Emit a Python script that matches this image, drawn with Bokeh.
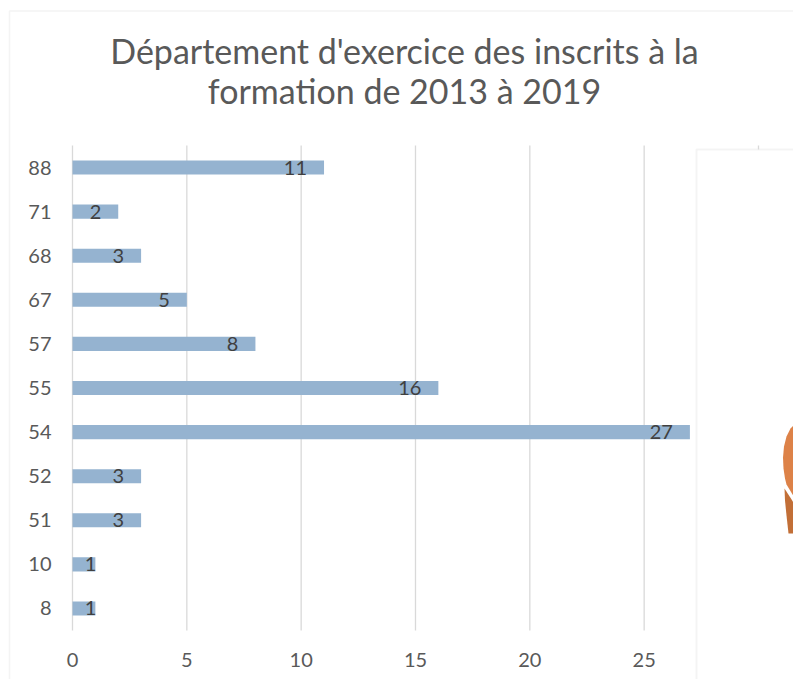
from bokeh.plotting import figure
from bokeh.models import (Range1d, FixedTicker, Label, BoxAnnotation,
                          PolyAnnotation, ColumnDataSource)
from bokeh.core.properties import value
from bokeh.embed import file_html
from bokeh.resources import INLINE

# ---- data ----
departements = ["8", "10", "51", "52", "54", "55", "57", "67", "68", "71", "88"]
inscrits = [1, 1, 3, 3, 27, 16, 8, 5, 3, 2, 11]
x_ticks = [0, 5, 10, 15, 20, 25, 30]
title_lines = ["Département d'exercice des inscrits à la", "formation de 2013 à 2019"]

FONT = "Lato"
W, H = 793, 679

# plot-area geometry (pixels on the page)
PX_L, PX_R = 72, 758          # x = 0 .. 30
PY_T, PY_B = 145, 630         # top / bottom of the plot area
n_cat = len(departements)
x_max = x_ticks[-1]
sx = (PX_R - PX_L) / x_max                  # px per unit (x)
sy = (PY_B - PY_T) / n_cat                  # px per category
x_start = -PX_L / sx
x_end = x_start + W / sx
y_low = -0.5 - (H - PY_B) / sy
y_high = y_low + H / sy

pos = list(range(n_cat))
src = ColumnDataSource(dict(
    pos=pos,
    n=inscrits,
    lbl=[str(v) for v in inscrits],
    xo=[-17 if v >= 2 else 1 for v in inscrits],
))

p = figure(width=W, height=H,
           x_range=Range1d(x_start, x_end), y_range=Range1d(y_low, y_high),
           output_backend="svg", toolbar_location=None,
           min_border=0, min_border_left=0, min_border_right=0,
           min_border_top=0, min_border_bottom=0)
p.outline_line_color = None
p.background_fill_color = "white"
p.border_fill_color = "white"

# vertical gridlines limited to the plot area
p.segment(x0=x_ticks, x1=x_ticks, y0=[-0.5] * len(x_ticks), y1=[n_cat - 0.5] * len(x_ticks),
          line_color="#d9d9d9", line_width=1.3)
p.xgrid.grid_line_color = None
p.ygrid.grid_line_color = None

p.hbar(y="pos", right="n", left=0, height=0.32, source=src,
       fill_color="#95b3d0", line_color=None)

p.text(x="n", y="pos", text="lbl", x_offset="xo", source=src,
       text_align="right", text_baseline="middle",
       text_font=value(FONT), text_font_size="20px", text_color="#404040")

# axes pinned inside the canvas
for ax in (p.xaxis[0], p.yaxis[0]):
    ax.axis_line_color = None
    ax.major_tick_line_color = None
    ax.minor_tick_line_color = None
    ax.major_tick_out = 0
    ax.major_tick_in = 0
    ax.minor_tick_out = 0
    ax.major_label_text_font = FONT
    ax.major_label_text_font_size = "20px"
    ax.major_label_text_color = "#595959"
p.xaxis.fixed_location = -0.5
p.xaxis.ticker = FixedTicker(ticks=x_ticks)
p.xaxis.major_label_standoff = 22
p.yaxis.fixed_location = 0
p.yaxis.ticker = FixedTicker(ticks=pos)
p.yaxis.major_label_overrides = {i: d for i, d in zip(pos, departements)}
p.yaxis.major_label_standoff = 21

# title (two centred lines)
for txt, yy in zip(title_lines, [H - 50, H - 89.5]):
    p.add_layout(Label(x=404, y=yy, x_units="screen", y_units="screen", text=txt,
                       text_align="center", text_baseline="alphabetic",
                       text_font=FONT, text_font_size="34px", text_color="#595959"))

# outer chart frame
p.add_layout(BoxAnnotation(left=9, right=3000, top=10.5, bottom=3000,
                           left_units="canvas", right_units="canvas",
                           top_units="canvas", bottom_units="canvas",
                           fill_color=None, fill_alpha=0,
                           line_color="#d9d9d9", line_width=1.5))

# overlapping neighbouring chart box
p.add_layout(BoxAnnotation(left=696, right=3000, top=149, bottom=3000,
                           left_units="canvas", right_units="canvas",
                           top_units="canvas", bottom_units="canvas",
                           fill_color="white", fill_alpha=1,
                           line_color="#d9d9d9", line_width=2))

light = [(795, 423), (790, 428), (786, 436), (783.5, 446), (782.5, 457), (783, 468),
         (784.5, 478), (786, 484), (795, 499)]
dark = [(784, 488), (795, 505), (795, 533), (788, 533), (786, 515), (784.5, 500)]
for pts, col in ((light, "#dd8248"), (dark, "#c26f37")):
    p.add_layout(PolyAnnotation(xs=[x for x, _ in pts], ys=[y for _, y in pts],
                                xs_units="canvas", ys_units="canvas",
                                fill_color=col, fill_alpha=1, line_color=None))

open("out.html", "w").write(file_html(p, INLINE))
